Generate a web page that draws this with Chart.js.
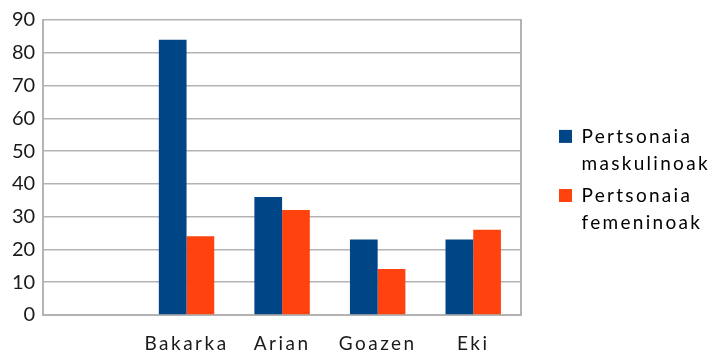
<!DOCTYPE html>
<html>
<head>
<meta charset="utf-8">
<script src="https://cdn.jsdelivr.net/npm/chart.js@4"></script>
<style>
  html, body { margin: 0; padding: 0; background: #fff; }
  #wrap { width: 710px; height: 353px; position: relative; }
</style>
</head>
<body>
<div id="wrap"><canvas id="chart"></canvas></div>
<script>
const categories = ['', 'Bakarka', 'Arian', 'Goazen', 'Eki'];
const maleValues = [null, 84, 36, 23, 23];
const femaleValues = [null, 24, 32, 14, 26];
const seriesNames = [['Pertsonaia', 'maskulinoak'], ['Pertsonaia', 'femeninoak']];
const seriesColors = ['#004586', '#ff420e'];

const legendPad = 4;

// spread letters on x labels and legend, like the original export
const spacing = {
    id: 'spacing',
    beforeLayout(chart) {
        const lg = chart.legend;
        if (lg && !lg._spaced) {
            const origFit = lg.fit.bind(lg);
            lg.fit = () => {
                origFit();
                lg.width = 151 + legendPad;
            };
            const origDraw = lg.draw.bind(lg);
            lg.draw = () => {
                chart.ctx.save();
                chart.ctx.letterSpacing = '2.3px';
                origDraw();
                chart.ctx.restore();
            };
            lg._spaced = true;
        }
    },
    afterLayout(chart) {
        const xs = chart.scales.x;
        if (xs && !xs._spaced) {
            const orig = xs.drawLabels.bind(xs);
            xs.drawLabels = (area) => {
                chart.ctx.save();
                chart.ctx.letterSpacing = '2.5px';
                orig(area);
                chart.ctx.restore();
            };
            xs._spaced = true;
        }
    }
};

new Chart(document.getElementById('chart'), {
    type: 'bar',
    data: {
        labels: categories,
        datasets: [
            { label: 'Pertsonaia maskulinoak', data: maleValues, backgroundColor: seriesColors[0] },
            { label: 'Pertsonaia femeninoak', data: femaleValues, backgroundColor: seriesColors[1] }
        ]
    },
    options: {
        responsive: true,
        maintainAspectRatio: false,
        animation: false,
        layout: { padding: { top: 15, left: 4, right: 0, bottom: 0 } },
        datasets: { bar: { barPercentage: 1, categoryPercentage: 0.58 } },
        plugins: {
            tooltip: { enabled: false },
            legend: {
                position: 'right',
                labels: {
                    color: '#1a1a1a',
                    font: { family: 'Lato', size: 19, lineHeight: 1.45 },
                    boxWidth: 13,
                    boxHeight: 13,
                    padding: legendPad,
                    generateLabels: () => seriesNames.map((name, i) => ({
                        text: name,
                        fillStyle: seriesColors[i],
                        strokeStyle: seriesColors[i],
                        lineWidth: 0,
                        datasetIndex: i
                    }))
                }
            }
        },
        scales: {
            x: {
                grid: { display: false },
                border: { display: true, color: '#b3b3b3', width: 2 },
                ticks: { color: '#1a1a1a', font: { family: 'Lato', size: 19 }, padding: 9, maxRotation: 0 },
                afterFit: (scale) => { scale.height = 38; }
            },
            y: {
                min: 0,
                max: 90,
                grid: { color: '#b3b3b3', lineWidth: 1.5, drawTicks: false },
                border: { display: true, color: '#b3b3b3', width: 2 },
                ticks: { stepSize: 10, color: '#1a1a1a', font: { family: 'Lato', size: 20 }, padding: 8 }
            },
            y2: {
                position: 'right',
                min: 0,
                max: 90,
                grid: { drawOnChartArea: false, drawTicks: false },
                border: { display: true, color: '#b3b3b3', width: 2 },
                ticks: { display: false },
                afterFit: (scale) => { scale.width = 38 - legendPad; }
            }
        }
    },
    plugins: [spacing]
});
</script>
</body>
</html>
